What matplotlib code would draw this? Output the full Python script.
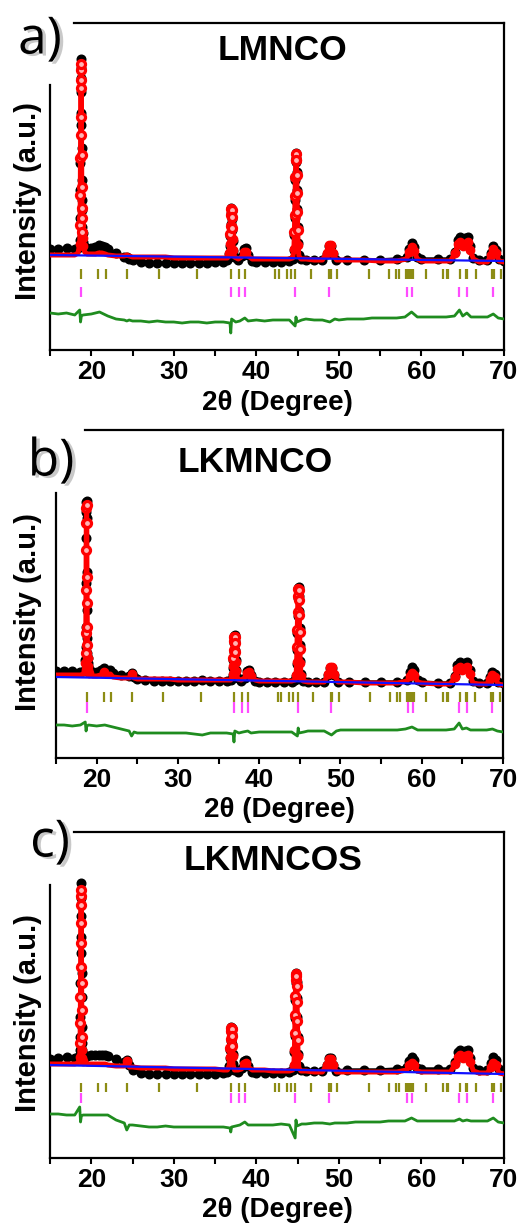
import numpy as np
import matplotlib
matplotlib.use("Agg")
import matplotlib.pyplot as plt
from matplotlib import patheffects
from matplotlib.ticker import MultipleLocator

plt.rcParams["font.family"] = ["Liberation Sans", "DejaVu Sans"]
plt.rcParams["font.weight"] = "bold"

# 2theta grid shared by the three refinements (dense around the sharp reflections)
two_theta = [
    15, 16, 17, 18, 18.4,
    18.6, 18.64, 18.67, 18.69, 18.71, 18.73, 18.75, 18.77, 18.79, 18.81, 18.83, 18.85, 18.87, 18.9, 18.93, 18.97, 19.05,
    19.2, 19.5, 20, 20.5, 20.9, 21.3, 21.7, 22, 23, 24, 24.3, 24.6, 25, 26, 27, 28, 29, 30, 31, 32, 33, 34, 35, 36, 36.5,
    36.72, 36.78, 36.83, 36.87, 36.91, 36.95, 36.99, 37.03, 37.07, 37.12, 37.18, 37.35,
    37.8, 38.2, 38.5, 38.7, 39.0, 39.5, 40, 41, 42, 43, 44, 44.4,
    44.55, 44.61, 44.65, 44.69, 44.73, 44.77, 44.81, 44.85, 44.89, 44.93, 44.97, 45.01, 45.06, 45.15,
    45.4, 46, 47, 48, 48.5, 48.75, 49.0, 49.25, 49.7, 51, 53, 55, 57, 58.2, 58.5, 58.8, 59.1, 59.5,
    60, 62, 63.5, 64.1, 64.4, 64.7, 65.0, 65.3, 65.6, 65.9, 66.3, 67, 68, 68.4, 68.7, 69.0, 69.4, 70,
]

# LMNCO
obs_a = [
    101, 101, 102, 101, 102,
    110, 132, 160, 187, 225, 258, 282, 291, 272, 237, 202, 170, 150, 140, 123, 117, 108,
    103, 102, 102, 103, 105, 104, 103, 101, 97, 93, 93, 91, 90, 88, 87, 87, 87, 87, 87, 87, 87, 87, 88, 88, 90,
    96, 104, 114, 126, 137, 142, 139, 131, 120, 109, 99, 93,
    90, 94, 101, 102, 95, 89, 88, 88, 88, 88, 89, 91,
    100, 115, 132, 150, 170, 188, 197, 192, 178, 160, 141, 123, 107, 95,
    91, 90, 90, 90, 96, 104, 104, 96, 90, 90, 90, 90, 91, 93, 101, 107, 103, 93,
    91, 91, 91, 98, 110, 113, 108, 112, 113, 104, 92, 90, 90, 97, 104, 100, 91, 89,
]
calc_a = [
    95, 95, 95, 95, 97,
    106, 125, 155, 192, 215, 262, 280, 286, 270, 233, 195, 163, 142, 132, 118, 112, 104,
    98, 96, 96, 96, 97, 97, 96, 95, 94, 94, 95, 94, 93, 93, 93, 93, 93, 92, 92, 92, 92, 92, 92, 92, 92,
    97, 106, 116, 124, 135, 141, 140, 133, 122, 111, 100, 93,
    91, 93, 98, 98, 94, 91, 91, 91, 91, 91, 91, 92,
    101, 118, 135, 154, 173, 190, 196, 190, 175, 157, 138, 120, 105, 94,
    91, 91, 90, 90, 97, 105, 105, 97, 90, 90, 90, 89, 89, 91, 98, 103, 99, 91,
    89, 89, 89, 97, 106, 108, 104, 106, 108, 100, 91, 88, 88, 95, 101, 97, 89, 88,
]
bkg_a = [95, 89]

# LKMNCO
obs_b = [
    87, 87, 87, 86, 87,
    98, 111, 131, 175, 220, 246, 256, 257, 240, 186, 148, 120, 105, 100, 95, 92, 89,
    87, 86, 86, 88, 90, 87, 88, 85, 83, 82, 85, 81, 79, 78, 77, 77, 77, 77, 77, 77, 78, 77, 77, 77, 78,
    83, 90, 98, 106, 115, 122, 123, 117, 108, 98, 88, 80,
    77, 80, 87, 88, 83, 77, 76, 76, 76, 76, 76, 78,
    82, 94, 108, 125, 142, 160, 170, 171, 162, 147, 130, 113, 97, 84,
    77, 76, 76, 76, 83, 90, 90, 83, 76, 76, 76, 76, 76, 78, 86, 91, 88, 78,
    76, 75, 75, 82, 93, 96, 92, 95, 96, 88, 77, 75, 75, 81, 86, 84, 76, 75,
]
calc_b = [
    83, 83, 83, 83, 84,
    95, 105, 125, 168, 208, 235, 250, 253, 235, 181, 155, 131, 113, 100, 92, 88, 85,
    83, 82, 82, 83, 86, 83, 84, 81, 80, 80, 84, 80, 79, 79, 79, 79, 79, 78, 78, 78, 78, 78, 78, 78, 78,
    84, 92, 100, 108, 117, 121, 121, 115, 106, 96, 87, 79,
    78, 80, 85, 86, 82, 78, 77, 77, 77, 77, 77, 78,
    83, 96, 111, 128, 146, 162, 169, 168, 158, 143, 126, 109, 95, 82,
    77, 76, 76, 76, 84, 91, 91, 84, 76, 76, 75, 75, 75, 77, 82, 85, 83, 76,
    75, 74, 74, 81, 89, 91, 88, 90, 91, 84, 75, 74, 74, 79, 83, 81, 74, 73,
]
bkg_b = [81, 73]

# LKMNCOS
obs_c = [
    99, 100, 101, 100, 101,
    108, 121, 141, 175, 205, 242, 268, 275, 260, 221, 185, 161, 131, 115, 108, 104, 102,
    101, 102, 103, 103, 103, 103, 103, 102, 99, 96, 98, 93, 88, 85, 84, 84, 84, 84, 84, 84, 84, 84, 84, 85, 86,
    92, 100, 108, 117, 126, 131, 130, 124, 114, 104, 94, 88,
    86, 90, 97, 98, 92, 86, 85, 85, 85, 85, 86, 88,
    92, 106, 122, 140, 158, 175, 184, 185, 176, 160, 141, 121, 104, 92,
    88, 87, 87, 87, 93, 100, 100, 93, 87, 88, 88, 88, 89, 91, 97, 101, 98, 90,
    89, 89, 89, 96, 106, 108, 104, 107, 108, 100, 90, 88, 88, 95, 101, 98, 89, 87,
]
calc_c = [
    94, 94, 94, 94, 95,
    101, 115, 135, 161, 191, 235, 262, 268, 253, 215, 175, 148, 121, 108, 100, 97, 95,
    95, 94, 94, 94, 94, 94, 94, 93, 92, 92, 97, 91, 91, 90, 90, 90, 90, 89, 89, 89, 89, 89, 89, 88, 88,
    93, 101, 110, 119, 127, 130, 129, 122, 112, 102, 93, 88,
    88, 89, 94, 95, 91, 88, 88, 88, 87, 87, 87, 88,
    93, 108, 125, 143, 162, 178, 184, 182, 172, 156, 137, 118, 102, 90,
    87, 87, 86, 86, 93, 99, 99, 93, 86, 86, 86, 86, 86, 88, 93, 95, 93, 87,
    86, 86, 86, 94, 101, 103, 100, 102, 103, 96, 87, 85, 85, 91, 95, 93, 85, 84,
]
bkg_c = [93, 84]

# difference curves (Yobs - Ycalc, offset)
diff_theta = [
    15, 16, 17, 18, 18.6, 18.7, 18.8, 19, 20, 21, 22, 23, 24, 24.3, 24.6,
    25, 26, 27, 28, 29, 30, 31, 32, 33, 34, 35, 36, 36.8, 36.9, 37.0, 37.5, 38, 38.6, 39,
    40, 41, 42, 43, 44, 44.7, 44.8, 44.9, 45.5, 46, 47, 48, 48.9, 49.5,
    50, 51, 52, 53, 54, 55, 56, 57, 58, 58.8, 59.5,
    60, 61, 62, 63, 64, 64.6, 65, 65.5, 66, 67, 68, 68.7, 69.3, 70,
]
diff_a = [
    37, 36, 37, 35, 40, 28, 34, 35, 36, 38, 34, 31, 30, 29, 30,
    29, 29, 28, 29, 28, 28, 27, 28, 28, 27, 28, 28, 27, 17, 31, 28, 29, 32, 29,
    30, 29, 30, 30, 30, 24, 33, 28, 30, 31, 30, 30, 28, 31,
    30, 31, 31, 31, 32, 32, 32, 32, 33, 38, 33,
    33, 33, 33, 33, 34, 40, 34, 37, 33, 33, 33, 36, 32, 31,
]
diff_b = [
    33, 33, 32, 33, 36, 27, 32, 33, 32, 33, 31, 29, 27, 22, 26,
    25, 25, 25, 25, 25, 25, 25, 24, 23, 25, 25, 25, 24, 16, 27, 25, 26, 27, 25,
    26, 26, 26, 26, 26, 22, 30, 25, 26, 27, 27, 27, 23, 27,
    28, 28, 28, 28, 28, 28, 28, 28, 29, 31, 28,
    28, 28, 28, 28, 29, 35, 29, 30, 28, 28, 28, 29, 27, 26,
]
diff_c = [
    44, 44, 43, 43, 51, 36, 42, 43, 43, 43, 43, 38, 35, 28, 33,
    33, 32, 31, 31, 32, 31, 31, 31, 31, 31, 31, 31, 30, 26, 31, 32, 33, 36, 33,
    33, 33, 33, 34, 33, 20, 38, 32, 34, 34, 35, 35, 34, 35,
    35, 35, 36, 36, 36, 36, 37, 37, 37, 40, 37,
    37, 37, 37, 37, 37, 39, 37, 38, 37, 37, 37, 40, 36, 35,
]

# Bragg positions: spinel phase (olive) and layered phase (magenta)
bragg_1 = [
    18.76, 20.85, 21.78, 24.33, 28.17, 32.81, 36.93, 37.93, 38.62, 42.29, 42.70, 43.67,
    44.19, 44.72, 46.65, 48.83, 49.00, 49.77, 53.64, 56.10, 56.91, 57.31, 58.16, 58.37,
    58.61, 58.85, 59.01, 60.51, 62.64, 63.05, 63.18, 64.67, 65.39, 65.55, 66.57, 68.58,
    68.79, 69.63,
]
bragg_2 = [18.76, 36.93, 37.93, 38.62, 44.72, 48.83, 58.28, 58.89, 64.58, 65.55, 68.70]

titles = ["LMNCO", "LKMNCO", "LKMNCOS"]
letters = ["a)", "b)", "c)"]

W, H = 525, 1223


def draw_panel(fig, box, obs, calc, bkg, diff, ymax, ticks1, ticks2,
               top_from, left_to):

    x0, y0, x1, y1 = box
    ax = fig.add_axes([x0 / W, 1 - y1 / H, (x1 - x0) / W, (y1 - y0) / H])

    tt = np.array(two_theta)
    obs = np.array(obs)
    calc = np.array(calc)
    base = np.interp(tt, [15, 70], bkg)

    ax.plot(tt, obs, color="black", lw=2.5, marker="o", ms=6.2, zorder=2)
    ax.plot(tt, calc, color="red", lw=3.6, zorder=3)

    # weak humps look solid red, strong reflections show open red circles
    hump = (calc > base + 4) & (calc <= base + 20)
    ax.plot(tt[hump], calc[hump], ls="none", marker="o", ms=6,
            mec="red", mfc="red", zorder=3)
    peak = calc > base + 20
    ax.plot(tt[peak], calc[peak], ls="none", marker="o", ms=5.8,
            mec="red", mfc="#ffb4b4", mew=2.3, zorder=4)
    ax.plot([15, 70], bkg, color="#1010ff", lw=1.6, zorder=5)

    ax.plot(diff_theta, diff, color="#1f8c1f", lw=2.0, zorder=3)

    ax.vlines(bragg_1, ticks1[0], ticks1[1], color="#8c8c14", lw=1.6)
    ax.vlines(bragg_2, ticks2[0], ticks2[1], color="#ff4cff", lw=1.6)

    ax.set_xlim(15, 70)
    ax.set_ylim(0, ymax)
    ax.set_yticks([])
    ax.xaxis.set_major_locator(MultipleLocator(10))
    ax.xaxis.set_minor_locator(MultipleLocator(5))
    ax.tick_params(axis="x", which="both", direction="out", length=4,
                   width=1.5, labelsize=19, pad=3)

    for s in ax.spines.values():
        s.set_linewidth(1.6)
    ax.spines["top"].set_bounds(top_from, 70)
    ax.spines["left"].set_bounds(0, left_to)

    return ax


boxes = [(50, 23, 504, 350), (56, 430, 503, 758), (50, 832, 504, 1158)]
series = [
    (obs_a, calc_a, bkg_a, diff_a, 327, (71, 81), (53, 63), 17.9, 265),
    (obs_b, calc_b, bkg_b, diff_b, 328, (56, 66), (45, 56), 18.6, 265),
    (obs_c, calc_c, bkg_c, diff_c, 326, (66, 75), (55, 65), 17.9, 273),
]
title_xy = [(282, 50), (255, 463), (273, 860)]
letter_xy = [(40, 40), (51, 462), (50, 843)]
xlabel_y = [403, 810, 1210]
ylabel_y = [201, 612, 1013]

fig = plt.figure(figsize=(W / 100, H / 100), dpi=100)

for i in range(3):

    ax = draw_panel(fig, boxes[i], *series[i])

    x0, y0, x1, y1 = boxes[i]

    fig.text((x0 + x1) / 2 / W, 1 - xlabel_y[i] / H, "2θ (Degree)",
             ha="center", va="center", fontsize=20)
    fig.text(28 / W, 1 - ylabel_y[i] / H, "Intensity (a.u.)",
             ha="center", va="center", rotation=90, fontsize=21)

    fig.text(title_xy[i][0] / W, 1 - title_xy[i][1] / H, titles[i],
             ha="center", va="center", fontsize=25.5)

    fig.text(letter_xy[i][0] / W, 1 - letter_xy[i][1] / H, letters[i],
             ha="center", va="center", fontsize=37, fontweight="normal",
             family=["Open Sans", "DejaVu Sans"],
             path_effects=[
                 patheffects.SimplePatchShadow(offset=(2.5, -1.5),
                                               shadow_rgbFace="0.4",
                                               alpha=0.35),
                 patheffects.Normal(),
             ])

fig.savefig("out.png", dpi=100)
